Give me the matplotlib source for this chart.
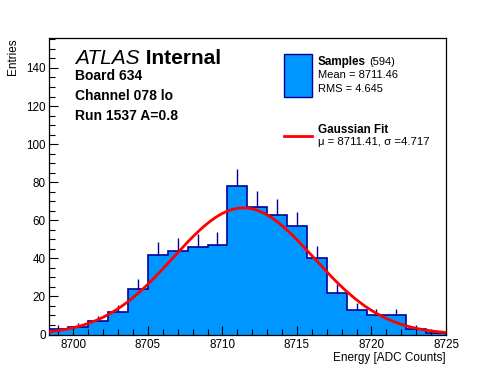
import numpy as np
import matplotlib.pyplot as plt
from matplotlib.patches import Rectangle
from matplotlib.lines import Line2D

plt.rcParams['font.family'] = ['Liberation Sans', 'DejaVu Sans']

# histogram data
x_min = 8698.333
x_max = 8725.0
counts = [3, 4, 7, 12, 24, 42, 44, 46, 47, 78, 67, 63, 57, 40, 22, 13, 10, 10, 3, 1]
n_samples = 594
mean_val = 8711.46
rms_val = 4.645
fit_mu = 8711.41
fit_sigma = 4.717
fit_const = 66.5

edges = np.linspace(x_min, x_max, len(counts) + 1)
centers = 0.5 * (edges[:-1] + edges[1:])
counts = np.array(counts)

W, H = 496, 372
fig = plt.figure(figsize=(W / 100, H / 100), dpi=100)

def fx(px):
    return px / W

def fy(py):
    return 1 - py / H

ax = fig.add_axes([fx(48.5), fy(334.5), fx(446) - fx(48.5), fy(37.5) - fy(334.5)])

fill_col = '#0096ff'
line_col = '#000099'

# error bars: only the upper half shows above the fill
ax.vlines(centers, counts, counts + np.sqrt(counts), color=line_col, lw=1, zorder=2)
ax.stairs(counts, edges, fill=True, color=fill_col, zorder=1)
ax.stairs(counts, edges, color=line_col, lw=1.2, zorder=3)

xs = np.linspace(x_min, x_max, 400)
ax.plot(xs, fit_const * np.exp(-0.5 * ((xs - fit_mu) / fit_sigma) ** 2), color='#ff0000', lw=2, zorder=4)

ax.set_xlim(x_min, x_max)
ax.set_ylim(0, 156)
ax.set_xticks([8700, 8705, 8710, 8715, 8720, 8725])
ax.set_xticks(np.arange(8699, 8726, 1), minor=True)
ax.set_yticks(np.arange(0, 141, 20))
ax.set_yticks(np.arange(0, 156, 5), minor=True)
ax.tick_params(which='both', direction='in', top=False, right=False, labelsize=8.4, width=0.8)
ax.tick_params(which='major', length=6.5)
ax.tick_params(which='minor', length=4)
ax.tick_params(axis='x', pad=3)
ax.tick_params(axis='y', pad=2)
for s in ax.spines.values():
    s.set_linewidth(0.9)

fig.text(fx(446), fy(361), 'Energy [ADC Counts]', ha='right', va='baseline', fontsize=8.5)
fig.text(fx(13), fy(38), 'Entries', ha='center', va='top', rotation=90, fontsize=8.5)

# ATLAS label
t1 = fig.text(fx(75), fy(58.5), 'ATLAS', style='italic', fontsize=15, va='center')
ax.annotate(' Internal', xy=(1, 0.5), xycoords=t1, va='center', ha='left',
            fontsize=15, fontweight='bold')
info = ['Board 634', 'Channel 078 lo', 'Run 1537 A=0.8']
for i, s in enumerate(info):
    fig.text(fx(75), fy(76 + 20 * i), s, fontsize=10, fontweight='bold', va='center')

# legend
fig.patches.append(Rectangle((fx(283.5), fy(96.5)), fx(311.5) - fx(283.5), fy(53.5) - fy(96.5),
                             transform=fig.transFigure, facecolor=fill_col, edgecolor=line_col, lw=1))
fig.lines.append(Line2D([fx(283.5), fx(311.5)], [fy(136), fy(136)], transform=fig.transFigure,
                        color='#ff0000', lw=2))
t2 = fig.text(fx(318), fy(62), 'Samples', fontsize=8.4, fontweight='bold', va='center')
ax.annotate('(%d)' % n_samples, xy=(1, 0.5), xycoords=t2, xytext=(2, 0), textcoords='offset points',
            va='center', ha='left', fontsize=8)
fig.text(fx(318), fy(75.5), 'Mean = %.2f' % mean_val, fontsize=8, va='center')
fig.text(fx(318), fy(89), 'RMS = %.3f' % rms_val, fontsize=8, va='center')
fig.text(fx(318), fy(130), 'Gaussian Fit', fontsize=8.4, fontweight='bold', va='center')
fig.text(fx(318), fy(142), '\u03bc = %.2f, \u03c3 =%.3f' % (fit_mu, fit_sigma), fontsize=8.2, va='center')

fig.savefig('out.png', dpi=100)
